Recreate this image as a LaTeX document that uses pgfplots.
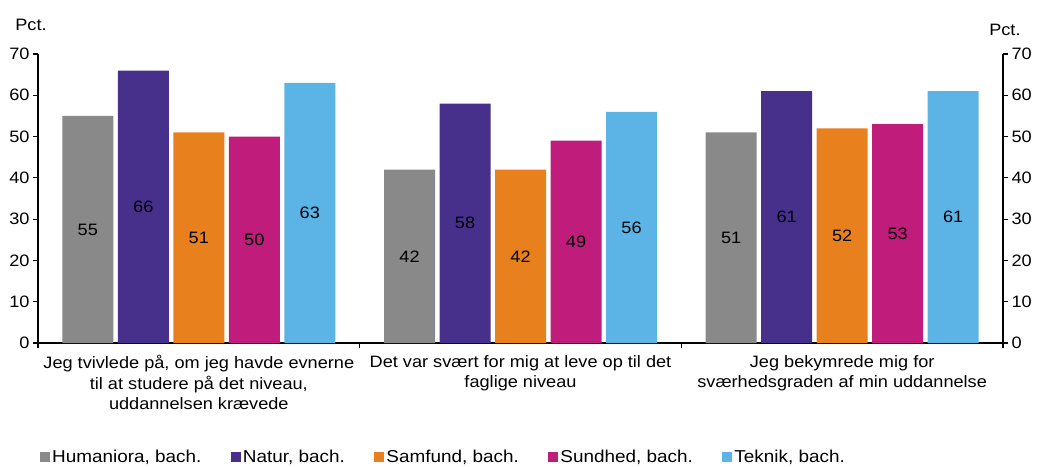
\documentclass[border=0pt]{standalone}
\usepackage{fontspec}
\setmainfont{Liberation Sans}[FakeStretch=1.1]
\usepackage{pgfplots}
\pgfplotsset{compat=1.18}
\definecolor{cHum}{RGB}{137,137,137}
\definecolor{cNat}{RGB}{70,48,140}
\definecolor{cSam}{RGB}{232,128,30}
\definecolor{cSun}{RGB}{192,28,124}
\definecolor{cTek}{RGB}{92,180,230}
\newcommand{\ff}{\fontsize{16.5bp}{20.5bp}\selectfont}
\newcommand{\fl}{\fontsize{17.2bp}{20.5bp}\selectfont}
\begin{document}
\begin{tikzpicture}
\useasboundingbox (0,0) rectangle (1042bp,467bp);
\begin{axis}[
  at={(38bp,124bp)}, anchor=south west,
  scale only axis, width=965bp, height=289bp,
  ybar=4.5bp, bar width=51bp,
  xmin=-0.5, xmax=2.5, ymin=0, ymax=70,
  axis x line*=bottom, axis y line*=left,
  ytick={0,10,...,70},
  xtick={-0.5,0.5,1.5,2.5}, xticklabels={},
  extra x ticks={0,1,2},
  extra x tick labels={{Jeg tvivlede på, om jeg havde evnerne\\til at studere på det niveau,\\uddannelsen krævede},{Det var svært for mig at leve op til det\\faglige niveau},{Jeg bekymrede mig for\\sværhedsgraden af min uddannelse}},
  extra x tick style={major tick length=0pt, xticklabel style={align=center, font=\ff, yshift=-9bp}},
  tick align=outside, major tick length=5bp,
  axis line style={black, line width=1.2bp},
  tick style={black, line width=1.2bp},
  yticklabel style={font=\ff},
  /pgf/number format/assume math mode=true,
  nodes near coords,
  visualization depends on={rawy/2 \as \halfy},
  every node near coord/.append style={anchor=center, font=\ff, black, shift={(axis direction cs:0,-\halfy)}},
  legend columns=5,
  legend style={draw=none, at={(axis description cs:0.002,-0.394)}, anchor=west, font=\fl, inner sep=0pt,
    /tikz/every even column/.append style={column sep=27.5bp}},
  legend image code/.code={\fill[#1] (0bp,-5bp) rectangle (10bp,5bp);},
  clip=false,
]
\addplot[fill=cHum, draw=none] coordinates {(0,55) (1,42) (2,51)};
\addplot[fill=cNat, draw=none] coordinates {(0,66) (1,58) (2,61)};
\addplot[fill=cSam, draw=none] coordinates {(0,51) (1,42) (2,52)};
\addplot[fill=cSun, draw=none] coordinates {(0,50) (1,49) (2,53)};
\addplot[fill=cTek, draw=none] coordinates {(0,63) (1,56) (2,61)};
\legend{{Humaniora, bach.},{Natur, bach.},{Samfund, bach.},{Sundhed, bach.},{Teknik, bach.}}
\node[font=\ff] at (rel axis cs:-0.0073,1.10) {Pct.};
\node[font=\ff] at (rel axis cs:1.002,1.083) {Pct.};
\end{axis}
\begin{axis}[
  at={(38bp,124bp)}, anchor=south west,
  scale only axis, width=965bp, height=289bp,
  xmin=-0.5, xmax=2.5, ymin=0, ymax=70,
  axis x line=none, axis y line*=right,
  ytick={0,10,...,70},
  tick align=outside, major tick length=5bp,
  axis line style={black, line width=1.2bp},
  tick style={black, line width=1.2bp},
  yticklabel style={font=\ff},
  /pgf/number format/assume math mode=true,
]
\addplot[draw=none] coordinates {(0,0)};
\end{axis}
\end{tikzpicture}
\end{document}
